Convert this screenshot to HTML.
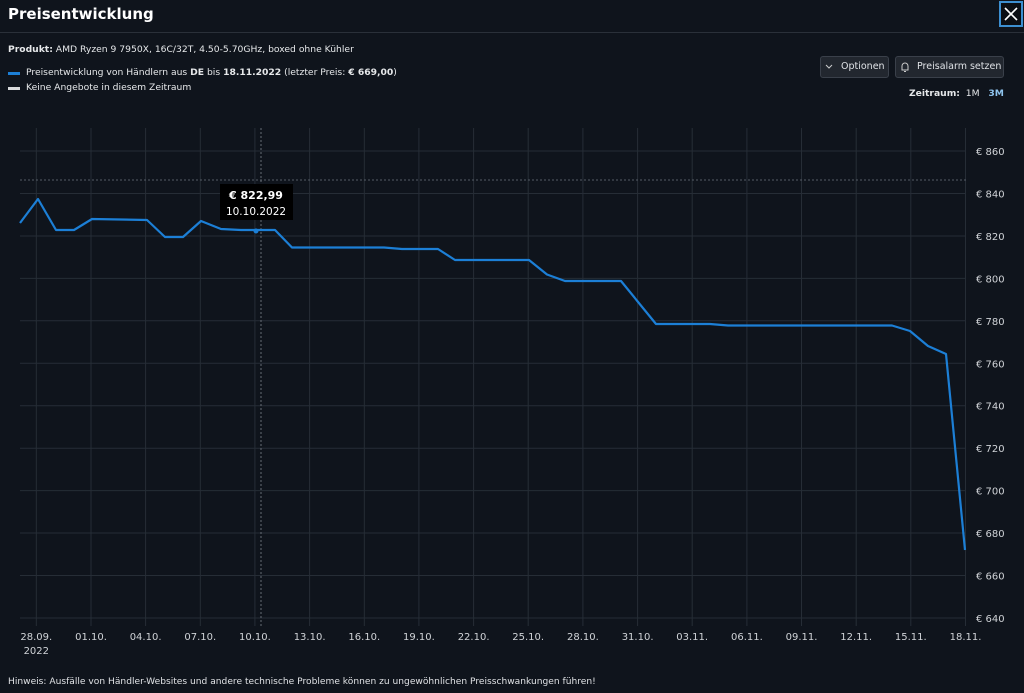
<!DOCTYPE html>
<html><head><meta charset="utf-8"><style>
body{margin:0;width:1024px;height:693px;background:#0f141c;font-family:"DejaVu Sans","Liberation Sans",sans-serif;color:#e6e8ea;overflow:hidden;position:relative}
.t{position:absolute;white-space:nowrap}
.btn{position:absolute;height:22px;border:1px solid #3a404a;background:#22272f;border-radius:3px;font-size:9.5px;color:#dfe2e6;line-height:20px;box-sizing:border-box;white-space:nowrap}
</style></head><body>
<div class="t" style="left:8px;top:5px;font-size:15px;font-weight:bold;color:#fff">Preisentwicklung</div>
<div style="position:absolute;left:0;top:32px;width:1024px;height:1px;background:#2a3039"></div>
<div style="position:absolute;left:999px;top:1px;width:24px;height:26px;box-sizing:border-box;border:2px solid #3d8fd0;background:#0b0e13"></div>
<svg style="position:absolute;left:1004px;top:7px" width="14" height="14"><path d="M1 1L13 13M13 1L1 13" stroke="#fff" stroke-width="1.6"/></svg>
<div class="t" style="left:8px;top:44px;font-size:9.2px"><b>Produkt:</b> AMD Ryzen 9 7950X, 16C/32T, 4.50-5.70GHz, boxed ohne Kühler</div>
<div style="position:absolute;left:8px;top:72px;width:12px;height:3px;background:#1c7fd6"></div>
<div class="t" style="left:26px;top:67px;font-size:9.2px">Preisentwicklung von Händlern aus <b>DE</b> bis <b>18.11.2022</b> (letzter Preis: <b>€ 669,00</b>)</div>
<div style="position:absolute;left:8px;top:87px;width:12px;height:3px;background:#d8dadc"></div>
<div class="t" style="left:26px;top:82px;font-size:9.2px">Keine Angebote in diesem Zeitraum</div>
<div class="btn" style="left:820px;top:56px;width:69px;padding-left:20px">Optionen</div>
<svg style="position:absolute;left:825px;top:64px" width="8" height="6"><path d="M1 1L4 4L7 1" stroke="#ccc" fill="none"/></svg>
<div class="btn" style="left:895px;top:56px;width:109px;padding-left:21px">Preisalarm setzen</div>
<svg style="position:absolute;left:900px;top:61px" width="10" height="12"><path d="M2 9V5a3 3 0 0 1 6 0v4H1.5h7M4 10.5h2" stroke="#ccc" fill="none"/></svg>
<div class="t" style="left:909px;top:88px;font-size:9.2px"><b>Zeitraum:</b>&nbsp; 1M &nbsp;&nbsp;<b style="color:#8fc4ee">3M</b></div>
<svg style="position:absolute;left:0;top:0" width="1024" height="693">
<g stroke="#262d36" stroke-width="1">
<line x1="20" y1="151" x2="966" y2="151"/><line x1="20" y1="193.5" x2="966" y2="193.5"/><line x1="20" y1="236" x2="966" y2="236"/><line x1="20" y1="278.4" x2="966" y2="278.4"/><line x1="20" y1="320.8" x2="966" y2="320.8"/><line x1="20" y1="363.3" x2="966" y2="363.3"/><line x1="20" y1="405.7" x2="966" y2="405.7"/><line x1="20" y1="448.2" x2="966" y2="448.2"/><line x1="20" y1="490.6" x2="966" y2="490.6"/><line x1="20" y1="533" x2="966" y2="533"/><line x1="20" y1="575.5" x2="966" y2="575.5"/><line x1="20" y1="618" x2="966" y2="618"/>
<line x1="36.3" y1="128" x2="36.3" y2="626"/><line x1="91" y1="128" x2="91" y2="626"/><line x1="145.6" y1="128" x2="145.6" y2="626"/><line x1="200.3" y1="128" x2="200.3" y2="626"/><line x1="254.9" y1="128" x2="254.9" y2="626"/><line x1="309.6" y1="128" x2="309.6" y2="626"/><line x1="364.3" y1="128" x2="364.3" y2="626"/><line x1="418.9" y1="128" x2="418.9" y2="626"/><line x1="473.6" y1="128" x2="473.6" y2="626"/><line x1="528.2" y1="128" x2="528.2" y2="626"/><line x1="582.9" y1="128" x2="582.9" y2="626"/><line x1="637.6" y1="128" x2="637.6" y2="626"/><line x1="692.2" y1="128" x2="692.2" y2="626"/><line x1="746.9" y1="128" x2="746.9" y2="626"/><line x1="801.5" y1="128" x2="801.5" y2="626"/><line x1="856.2" y1="128" x2="856.2" y2="626"/><line x1="910.8" y1="128" x2="910.8" y2="626"/><line x1="965.5" y1="128" x2="965.5" y2="626"/>
</g>
<line x1="20" y1="180" x2="966" y2="180" stroke="#555c66" stroke-dasharray="2,2"/>
<line x1="261" y1="128" x2="261" y2="626" stroke="#666c75" stroke-dasharray="2,2"/>
<polyline fill="none" stroke="#1c7fd6" stroke-width="2.2" stroke-linejoin="round" points="20,223 38,199 56,230 74,230 92,219 147,220 165,237 183,237 201,221 221,229 241,230 275,230 292,247.5 384,247.5 402,249 438,249 455,260 529,260 547,274.5 565,281 621,281 656,324 710,324 728,325.5 892,325.5 910,331 928,346 946,354 965,550"/>
<circle cx="256" cy="231" r="2.5" fill="#1c7fd6"/>
<rect x="220" y="184" width="73" height="36" fill="#000"/>
<text x="256" y="199" fill="#fff" font-size="11" font-weight="bold" text-anchor="middle" font-family="DejaVu Sans,sans-serif">€ 822,99</text>
<text x="256" y="215" fill="#fff" font-size="10.5" text-anchor="middle" font-family="DejaVu Sans,sans-serif">10.10.2022</text>
<g fill="#d0d3d7" font-size="10" font-family="DejaVu Sans,sans-serif">
<text x="976" y="155">€ 860</text><text x="976" y="197.5">€ 840</text><text x="976" y="240">€ 820</text><text x="976" y="282.4">€ 800</text><text x="976" y="324.8">€ 780</text><text x="976" y="367.3">€ 760</text><text x="976" y="409.7">€ 740</text><text x="976" y="452.2">€ 720</text><text x="976" y="494.6">€ 700</text><text x="976" y="537">€ 680</text><text x="976" y="579.5">€ 660</text><text x="976" y="622">€ 640</text>
</g>
<g fill="#d0d3d7" font-size="10" text-anchor="middle" font-family="DejaVu Sans,sans-serif">
<text x="36.3" y="640">28.09.</text><text x="36.3" y="654">2022</text><text x="91" y="640">01.10.</text><text x="145.6" y="640">04.10.</text><text x="200.3" y="640">07.10.</text><text x="254.9" y="640">10.10.</text><text x="309.6" y="640">13.10.</text><text x="364.3" y="640">16.10.</text><text x="418.9" y="640">19.10.</text><text x="473.6" y="640">22.10.</text><text x="528.2" y="640">25.10.</text><text x="582.9" y="640">28.10.</text><text x="637.6" y="640">31.10.</text><text x="692.2" y="640">03.11.</text><text x="746.9" y="640">06.11.</text><text x="801.5" y="640">09.11.</text><text x="856.2" y="640">12.11.</text><text x="910.8" y="640">15.11.</text><text x="965.5" y="640">18.11.</text>
</g>
</svg>
<div class="t" style="left:8px;top:677px;font-size:9.1px;color:#e0e2e5">Hinweis: Ausfälle von Händler-Websites und andere technische Probleme können zu ungewöhnlichen Preisschwankungen führen!</div>
</body></html>
